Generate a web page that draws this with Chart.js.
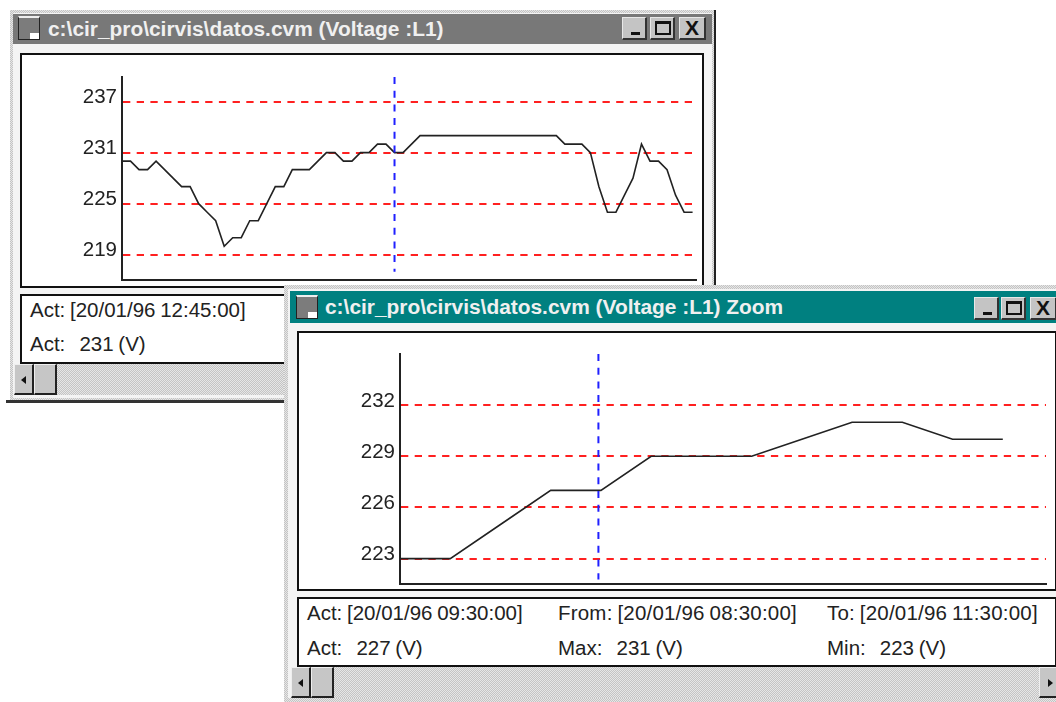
<!DOCTYPE html>
<html>
<head>
<meta charset="utf-8">
<title>datos.cvm</title>
<script src="https://cdn.jsdelivr.net/npm/chart.js@4"></script>
<style>
html, body { margin: 0; padding: 0; background: #fff; width: 1056px; height: 702px; overflow: hidden; }
body { position: relative; font-family: "Liberation Sans", Arial, sans-serif; color: #222; }
#page { position: absolute; left: 0; top: 0; width: 1056px; height: 702px; overflow: hidden; filter: blur(0.35px); }
.win { position: absolute; background: #f4f4f4; box-sizing: border-box; }
.dither { background: repeating-conic-gradient(#c4c4c4 0 25%, #e6e6e6 0 50%) 0 0 / 2px 2px; }
.title { position: absolute; color: #f0f0f0; font-weight: bold; font-size: 20.9px; line-height: 30px; white-space: nowrap; }
.bar { position: absolute; }
.panel { position: absolute; background: #fff; border: 2px solid #111; box-sizing: border-box; }
.panel canvas { position: absolute; left: 0; top: 0; }
.txt { position: absolute; font-size: 20.5px; line-height: 22px; white-space: pre; word-spacing: -1px; }
.wide { letter-spacing: 0.2px; }
.btn { position: absolute; width: 25px; height: 23px; box-sizing: border-box; background: #c4c4c4; border: 1px solid #e8e8e8; border-right: 2px solid #333; border-bottom: 2px solid #333; }
.btn i { position: absolute; display: block; box-sizing: border-box; }
.icon { position: absolute; width: 22px; height: 24px; background: #7c7c7c; border: 1px solid #222; box-sizing: border-box; border-top: 2px solid #eee; }
.icon i { position: absolute; right: 0; bottom: 0; width: 9px; height: 6px; background: #fff; }
.scroll { position: absolute; }
.sbtn { position: absolute; top: 0; width: 20px; height: 100%; box-sizing: border-box; background: #c6c6c6; border-right: 2px solid #222; border-bottom: 2px solid #222; border-top: 1px solid #eee; border-left: 1px solid #eee; }
.arrow { position: absolute; top: 11px; width: 0; height: 0; border-top: 4px solid transparent; border-bottom: 4px solid transparent; }
</style>
</head>
<body>
<div id="page">
  <!-- back window -->
  <div class="win dither" style="left:10px;top:10px;width:704px;height:391px;"></div>
  <div class="win" style="left:13px;top:13px;width:699px;height:385px;"></div>
  <div style="position:absolute;left:714px;top:10px;width:2px;height:275px;background:#222;"></div>
  <div style="position:absolute;left:6px;top:400px;width:280px;height:3px;background:#333;"></div>
  <div class="bar" style="left:13px;top:14px;width:699px;height:30px;background:#787878;"></div>
  <div class="icon" style="left:18px;top:16px;"><i></i></div>
  <div class="title" style="left:48px;top:14px;">c:\cir_pro\cirvis\datos.cvm (Voltage :L1)</div>
  <div class="btn" style="left:622px;top:17px;"><i style="left:8px;top:14px;width:9px;height:3px;background:#111;"></i></div>
  <div class="btn" style="left:650px;top:17px;"><i style="left:4px;top:3px;width:16px;height:14px;border:2px solid #111;border-top-width:3px;"></i></div>
  <div class="btn" style="left:679px;top:17px;width:27px;"><i style="left:5px;top:-2px;font:bold 21px 'Liberation Sans';font-style:normal;color:#111;">X</i></div>
  <div class="panel" style="left:20px;top:53px;width:684px;height:235px;"><canvas id="mainChart" width="680" height="231"></canvas></div>
  <div class="panel" style="left:20px;top:294px;width:684px;height:70px;">
    <div class="txt" style="left:8px;top:3px;">Act: [20/01/96 12:45:00]</div>
    <div class="txt" style="left:8px;top:37px;">Act:   231 (V)</div>
  </div>
  <div class="scroll dither" style="left:14px;top:364px;width:690px;height:31px;">
    <div class="sbtn" style="left:0;"><div class="arrow" style="left:6px;border-right:5px solid #111;"></div></div>
    <div class="sbtn" style="left:20px;width:23px;"></div>
  </div>

  <!-- zoom window -->
  <div class="win dither" style="left:284px;top:285px;width:780px;height:425px;"></div>
  <div class="win" style="left:288px;top:289px;width:772px;height:409px;"></div>
  <div class="bar" style="left:290px;top:291px;width:770px;height:32px;background:#008080;"></div>
  <div class="icon" style="left:296px;top:295px;"><i></i></div>
  <div class="title" style="left:325px;top:292px;">c:\cir_pro\cirvis\datos.cvm (Voltage :L1) Zoom</div>
  <div class="btn" style="left:974px;top:297px;"><i style="left:8px;top:14px;width:9px;height:3px;background:#111;"></i></div>
  <div class="btn" style="left:1001px;top:297px;"><i style="left:4px;top:3px;width:16px;height:14px;border:2px solid #111;border-top-width:3px;"></i></div>
  <div class="btn" style="left:1030px;top:297px;width:27px;"><i style="left:5px;top:-2px;font:bold 21px 'Liberation Sans';font-style:normal;color:#111;">X</i></div>
  <div class="panel" style="left:297px;top:331px;width:760px;height:260px;"><canvas id="zoomChart" width="756" height="256"></canvas></div>
  <div class="panel" style="left:297px;top:597px;width:760px;height:70px;">
    <div class="txt" style="left:8px;top:3px;">Act: [20/01/96 09:30:00]</div>
    <div class="txt" style="left:8px;top:38px;">Act:   227 (V)</div>
    <div class="txt wide" style="left:259px;top:3px;">From: [20/01/96 08:30:00]</div>
    <div class="txt" style="left:259px;top:38px;">Max:   231 (V)</div>
    <div class="txt wide" style="left:528px;top:3px;">To: [20/01/96 11:30:00]</div>
    <div class="txt" style="left:528px;top:38px;">Min:   223 (V)</div>
  </div>
  <div class="scroll dither" style="left:291px;top:667px;width:765px;height:31px;">
    <div class="sbtn" style="left:0;"><div class="arrow" style="left:6px;border-right:5px solid #111;"></div></div>
    <div class="sbtn" style="left:20px;width:23px;"></div>
    <div class="sbtn" style="left:748px;width:20px;"><div class="arrow" style="left:8px;border-left:5px solid #111;"></div></div>
  </div>
</div>

<script>
// Readings every 15 minutes (volts)
var mainVoltage = [230, 230, 229, 229, 230, 229, 228, 227, 227, 225, 224, 223, 220, 221, 221, 223, 223, 225,
	227, 227, 229, 229, 229, 230, 231, 231, 230, 230, 231, 231, 232, 232, 231, 231, 232,
	233, 233, 233, 233, 233, 233, 233, 233, 233, 233, 233, 233, 233, 233, 233, 233, 233,
	232, 232, 232, 231, 227, 224, 224, 226, 228, 232, 230, 230, 229, 226, 224, 224];
var mainTicks = [219, 225, 231, 237];
var mainCursor = 32;

var zoomVoltage = [223, 223, 225, 227, 227, 229, 229, 229, 230, 231, 231, 230, 230];
var zoomTicks = [223, 226, 229, 232];
var zoomCursor = 3.95;

function voltageChart(id, values, ticks, cursor, cfg) {
	var points = values.map(function(v, i) { return { x: i, y: v }; });

	return new Chart(document.getElementById(id), {
		type: 'line',
		data: {
			datasets: [
				{
					data: [{ x: cursor, y: cfg.yMax }, { x: cursor, y: cfg.cursorEnd }],
					borderColor: '#2020ff',
					borderWidth: 2,
					borderDash: [7, 6.7],
					pointRadius: 0
				},
				{
					data: points,
					borderColor: '#222',
					borderWidth: 1.6,
					pointRadius: 0,
					tension: 0
				}
			]
		},
		options: {
			responsive: false,
			animation: false,
			events: [],
			layout: { padding: cfg.padding },
			plugins: {
				legend: { display: false },
				tooltip: { enabled: false }
			},
			scales: {
				x: {
					type: 'linear',
					min: 0,
					max: cfg.xMax,
					afterFit: function(scale) {
						scale.height = cfg.axisHeight;
						scale.paddingLeft = 0;
						scale.paddingRight = 0;
					},
					grid: { display: false },
					border: { color: '#222', width: 2 },
					ticks: { display: false }
				},
				y: {
					min: cfg.yMin,
					max: cfg.yMax,
					afterBuildTicks: function(scale) {
						scale.ticks = ticks.map(function(v) { return { value: v }; });
					},
					// labels must not push the plot area in
					afterFit: function(scale) {
						scale.width = cfg.axisWidth;
						scale.paddingTop = 0;
						scale.paddingBottom = 0;
					},
					grid: { color: '#ff2020', lineWidth: 2, drawTicks: false },
					border: { color: '#222', width: 2, dash: [7.3, 6.4] },
					ticks: {
						color: '#222',
						padding: 5,
						labelOffset: -4,
						font: { family: '"Liberation Sans", Arial, sans-serif', size: 20.5 }
					}
				}
			}
		}
	});
}

voltageChart('mainChart', mainVoltage, mainTicks, mainCursor, {
	yMin: 216.03, yMax: 239.89, cursorEnd: 217, xMax: 67.4,
	axisWidth: 100, axisHeight: 6,
	padding: { top: 22, right: 6, left: 0, bottom: 0 }
});

voltageChart('zoomChart', zoomVoltage, zoomTicks, zoomCursor, {
	yMin: 221.51, yMax: 235, cursorEnd: 221.77, xMax: 12.86,
	axisWidth: 101, axisHeight: 5,
	padding: { top: 21, right: 9, left: 0, bottom: 0 }
});
</script>
</body>
</html>
